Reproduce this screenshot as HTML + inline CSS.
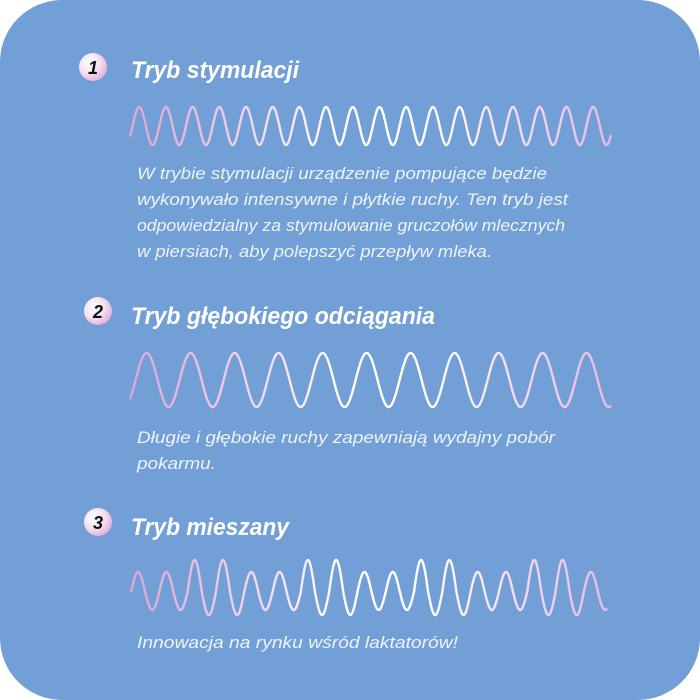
<!DOCTYPE html>
<html><head><meta charset="utf-8"><style>
html,body{margin:0;padding:0;background:#fff;width:700px;height:700px;overflow:hidden}
svg{display:block}
.t{font-family:"Liberation Sans",sans-serif;font-style:italic;font-weight:bold;font-size:24px;fill:#fff}
.b{font-family:"Liberation Sans",sans-serif;font-style:italic;font-size:17px;fill:#eef3fb}
.n{font-family:"Liberation Sans",sans-serif;font-style:italic;font-weight:bold;font-size:18px;fill:#111}
</style></head><body>
<svg width="700" height="700" viewBox="0 0 700 700" xmlns="http://www.w3.org/2000/svg">
<defs>
<linearGradient id="wg" x1="130" y1="0" x2="612" y2="0" gradientUnits="userSpaceOnUse">
<stop offset="0" stop-color="#dea3d6"/><stop offset="0.45" stop-color="#ffffff"/><stop offset="0.6" stop-color="#ffffff"/><stop offset="1" stop-color="#e8b8e2"/>
</linearGradient>
<radialGradient id="bg1" cx="0.35" cy="0.35" r="0.75">
<stop offset="0" stop-color="#ffffff"/><stop offset="0.5" stop-color="#f4e2f1"/><stop offset="1" stop-color="#e3a6d8"/>
</radialGradient>
</defs>
<rect x="0" y="0" width="700" height="700" rx="62" fill="#729fd6"/>
<path id="w1" fill="none" stroke="url(#wg)" stroke-width="2.4"/>
<path id="w2" fill="none" stroke="url(#wg)" stroke-width="2.4"/>
<path id="w3" fill="none" stroke="url(#wg)" stroke-width="2.4"/>

<circle cx="93" cy="67" r="14" fill="url(#bg1)"/><text class="n" x="93" y="74" text-anchor="middle">1</text>
<circle cx="98" cy="311" r="14" fill="url(#bg1)"/><text class="n" x="98" y="318" text-anchor="middle">2</text>
<circle cx="98" cy="522" r="14" fill="url(#bg1)"/><text class="n" x="98" y="529" text-anchor="middle">3</text>

<text class="t" x="131" y="78" textLength="168" lengthAdjust="spacingAndGlyphs">Tryb stymulacji</text>
<text class="b" x="137" y="179" textLength="410" lengthAdjust="spacingAndGlyphs">W trybie stymulacji urządzenie pompujące będzie</text>
<text class="b" x="137" y="205" textLength="431" lengthAdjust="spacingAndGlyphs">wykonywało intensywne i płytkie ruchy. Ten tryb jest</text>
<text class="b" x="137" y="231" textLength="428" lengthAdjust="spacingAndGlyphs">odpowiedzialny za stymulowanie gruczołów mlecznych</text>
<text class="b" x="137" y="257" textLength="355" lengthAdjust="spacingAndGlyphs">w piersiach, aby polepszyć przepływ mleka.</text>

<text class="t" x="131" y="324" textLength="304" lengthAdjust="spacingAndGlyphs">Tryb głębokiego odciągania</text>
<text class="b" x="137" y="443" textLength="418" lengthAdjust="spacingAndGlyphs">Długie i głębokie ruchy zapewniają wydajny pobór</text>
<text class="b" x="137" y="469" textLength="79" lengthAdjust="spacingAndGlyphs">pokarmu.</text>

<text class="t" x="131" y="535" textLength="158" lengthAdjust="spacingAndGlyphs">Tryb mieszany</text>
<text class="b" x="137" y="648" textLength="321" lengthAdjust="spacingAndGlyphs">Innowacja na rynku wśród laktatorów!</text>
</svg>
<script>
function wave(id,x0,x1,period,cy,ampf,phase){
  var d="";
  for(var x=x0;x<=x1;x+=0.5){
    var t=(x-x0)/period;
    var a=ampf(t);
    var y=cy-a*Math.sin(2*Math.PI*t+phase);
    d+=(d?"L":"M")+x.toFixed(1)+" "+y.toFixed(1);
  }
  document.getElementById(id).setAttribute("d",d);
}
wave("w1",130,611,26.7,126,function(){return 19;},-0.6);
wave("w2",130,611,44,380,function(){return 27;},-0.8);
wave("w3",131,607,28.3,592,function(t){
  var h=Math.floor(2*t), k=Math.floor(h/2)%4, big=(k==2||k==3);
  if(h%2==0) return big?32:20;
  return big?23:18;
},0);
</script>
</body></html>
